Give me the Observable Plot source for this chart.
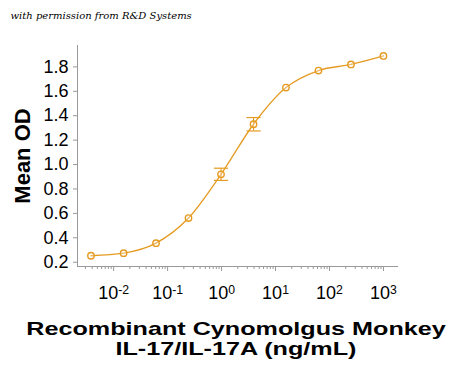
<!DOCTYPE html>
<html>
<head>
<meta charset="utf-8">
<script src="https://cdn.jsdelivr.net/npm/d3@7"></script>
<script src="https://cdn.jsdelivr.net/npm/@observablehq/plot@0.6"></script>
<style>
  html, body { margin: 0; padding: 0; background: #fff; }
  svg { display: block; }
</style>
</head>
<body>
<div id="chart"></div>
<script>
// Concentrations (ng/mL), 4-fold serial dilution
const conc = [0.0038, 0.0153, 0.061, 0.244, 0.977, 3.91, 15.6, 62.5, 250, 1000];
// Mean OD values
const meanOD = [0.253, 0.274, 0.356, 0.562, 0.92, 1.33, 1.63, 1.77, 1.82, 1.89];
// Error (± SD)
const errOD = [0.008, 0.008, 0.008, 0.01, 0.05, 0.055, 0.012, 0.01, 0.01, 0.004];
// Axis ticks
const yTicks = [0.2, 0.4, 0.6, 0.8, 1.0, 1.2, 1.4, 1.6, 1.8];
const xMajorTicks = [0.01, 0.1, 1, 10, 100, 1000];
const xMinorTicks = [];
for (const base of [0.001, 0.01, 0.1, 1, 10, 100]) {
  for (let m = 2; m <= 9; m++) {
    const v = +(base * m).toPrecision(3);
    if (v >= 0.0025 && v <= 1500) xMinorTicks.push(v);
  }
}

const data = conc.map((c, i) => ({x: c, y: meanOD[i], lo: meanOD[i] - errOD[i], hi: meanOD[i] + errOD[i]}));

const orange = "#E59B22";
const axisGrey = "#999";

const hline = {
  draw(context, size) {
    const r = Math.sqrt(size);
    context.moveTo(-r, 0);
    context.lineTo(r, 0);
  }
};

const errData = data.filter(d => d.hi - d.lo > 0.03);

const chart = Plot.plot({
  width: 450,
  height: 369,
  marginLeft: 77,
  marginRight: 52,
  marginTop: 45,
  marginBottom: 103,
  style: {fontFamily: "'Liberation Sans', Arial, sans-serif", background: "#fff"},
  x: {type: "log", domain: [0.00214, 1900]},
  y: {domain: [0.165, 1.975]},
  marks: [
    Plot.axisY({ticks: yTicks, tickFormat: d => d.toFixed(1), tickSize: 4, tickPadding: 5, fontSize: 18, color: "#000", stroke: axisGrey, label: null}),
    Plot.axisX({ticks: xMinorTicks, tickFormat: () => "", tickSize: 3, stroke: axisGrey, label: null}),
    Plot.axisX({ticks: xMajorTicks, tickFormat: d => "10^" + Math.round(Math.log10(d)), tickSize: 5, tickPadding: 15, fontSize: 18, color: "#000", stroke: axisGrey, label: null}),
    Plot.ruleY([0.165], {stroke: axisGrey}),
    Plot.ruleX([0.00214], {stroke: axisGrey}),
    Plot.line(data, {x: "x", y: "y", stroke: orange, strokeWidth: 1.3, curve: "monotone-x"}),
    Plot.ruleX(errData, {x: "x", y1: "lo", y2: "hi", stroke: orange, strokeWidth: 1.1}),
    Plot.dot(errData, {x: "x", y: "lo", symbol: hline, r: 4, stroke: orange, strokeWidth: 1.2}),
    Plot.dot(errData, {x: "x", y: "hi", symbol: hline, r: 4, stroke: orange, strokeWidth: 1.2}),
    Plot.dot(data, {x: "x", y: "y", r: 3.2, stroke: orange, strokeWidth: 1.4, fill: "#fff", fillOpacity: 0.3}),
    Plot.text(["Mean OD"], {frameAnchor: "left", textAnchor: "middle", dx: -55, rotate: -90, fontSize: 22, fontWeight: "bold", fill: "#000"}),
    Plot.text(["Recombinant Cynomolgus Monkey\nIL-17/IL-17A (ng/mL)"], {frameAnchor: "bottom", dy: 54, lineAnchor: "top", lineHeight: 1.13, fontSize: 18, fontWeight: "bold", fill: "#000", dx: -2, className: "xtitle"}),
    Plot.text(["with permission from R&D Systems"], {frameAnchor: "top-left", dx: -67, dy: -27, textAnchor: "start", lineAnchor: "bottom", fontSize: 10, fontStyle: "italic", fontFamily: "'DejaVu Serif', serif", fill: "#000"})
  ]
});

// Render powers of ten with a raised exponent
chart.querySelectorAll("text").forEach(t => {
  const s = t.textContent;
  const m = /^10\^(-?\d+)$/.exec(s);
  if (m) {
    t.textContent = "10";
    const sup = document.createElementNS("http://www.w3.org/2000/svg", "tspan");
    sup.setAttribute("dy", "-0.45em");
    sup.setAttribute("font-size", "0.68em");
    sup.textContent = m[1];
    t.appendChild(sup);
  }
});

// The reference's bottom title is set in a horizontally wide face
chart.querySelectorAll("g.xtitle text").forEach(t => {
  const tr = t.getAttribute("transform") || "";
  t.setAttribute("transform", tr + " scale(1.4,1)");
});

document.getElementById("chart").appendChild(chart);
</script>
</body>
</html>
